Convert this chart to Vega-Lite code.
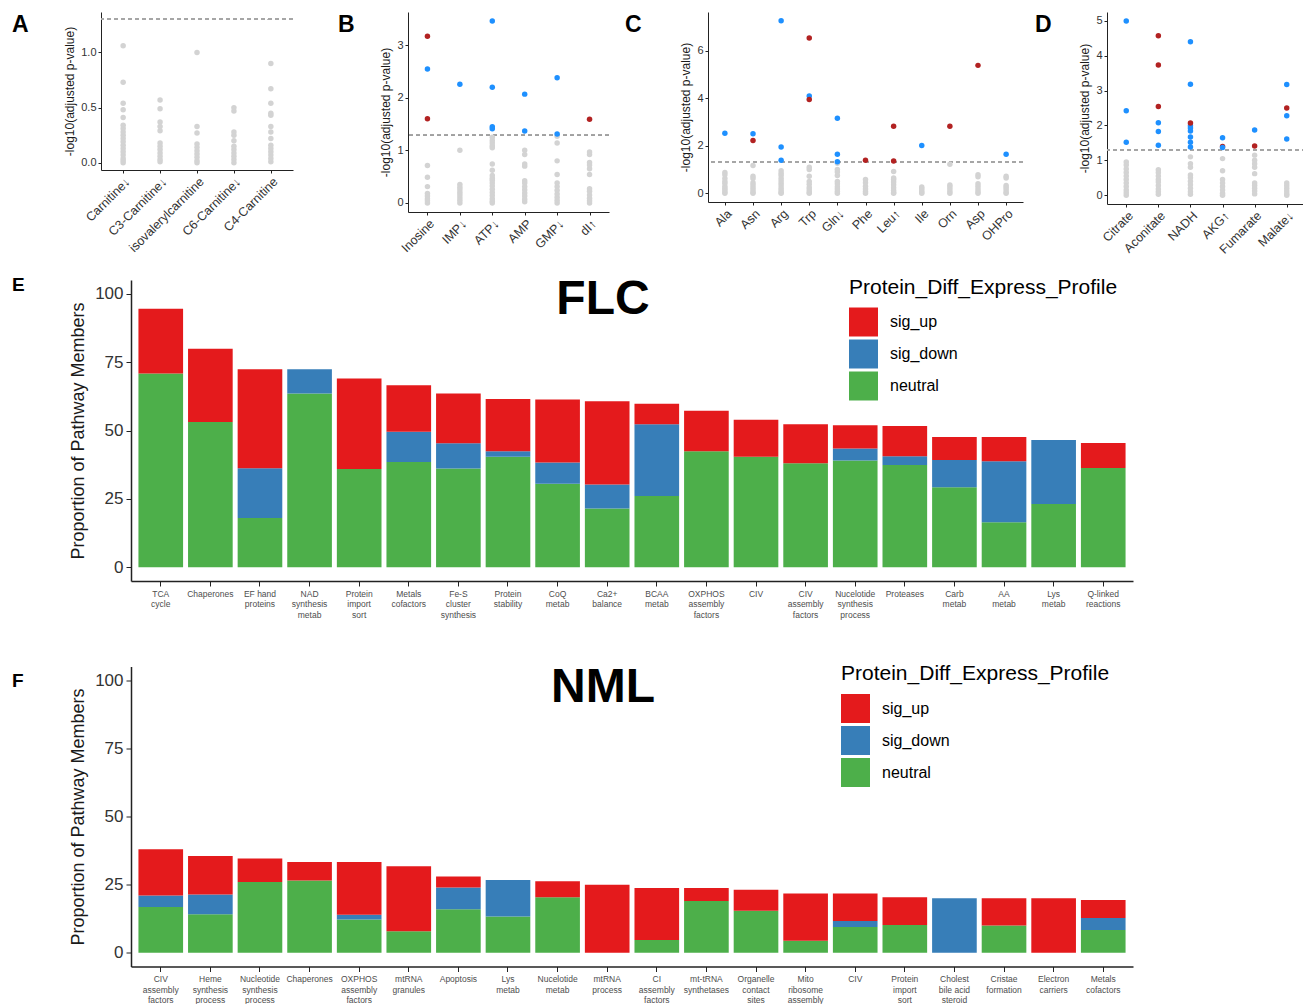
{
  "$schema": "https://vega.github.io/schema/vega-lite/v6.json",
  "padding": {"left": 12, "top": 12, "right": 0, "bottom": 0},
  "config": {
    "font": "Liberation Sans",
    "view": {"stroke": null},
    "axis": {"grid": false, "domainColor": "#222222", "tickColor": "#222222", "labelColor": "#4D4D4D", "titleColor": "#1a1a1a", "titleFontWeight": "normal", "labelOverlap": false},
    "title": {"color": "#000000", "frame": "group"}
  },
  "datasets": {
    "a": [
      {"m":"Carnitine↓","v":0,"s":"ns"},{"m":"Carnitine↓","v":0.02,"s":"ns"},{"m":"Carnitine↓","v":0.04,"s":"ns"},{"m":"Carnitine↓","v":0.07,"s":"ns"},{"m":"Carnitine↓","v":0.1,"s":"ns"},{"m":"Carnitine↓","v":0.13,"s":"ns"},{"m":"Carnitine↓","v":0.16,"s":"ns"},{"m":"Carnitine↓","v":0.19,"s":"ns"},{"m":"Carnitine↓","v":0.22,"s":"ns"},{"m":"Carnitine↓","v":0.25,"s":"ns"},{"m":"Carnitine↓","v":0.28,"s":"ns"},{"m":"Carnitine↓","v":0.31,"s":"ns"},{"m":"Carnitine↓","v":0.34,"s":"ns"},{"m":"Carnitine↓","v":0.41,"s":"ns"},{"m":"Carnitine↓","v":0.48,"s":"ns"},{"m":"Carnitine↓","v":0.54,"s":"ns"},{"m":"Carnitine↓","v":0.73,"s":"ns"},{"m":"Carnitine↓","v":1.06,"s":"ns"},
      {"m":"C3-Carnitine↓","v":0.01,"s":"ns"},{"m":"C3-Carnitine↓","v":0.03,"s":"ns"},{"m":"C3-Carnitine↓","v":0.06,"s":"ns"},{"m":"C3-Carnitine↓","v":0.09,"s":"ns"},{"m":"C3-Carnitine↓","v":0.12,"s":"ns"},{"m":"C3-Carnitine↓","v":0.15,"s":"ns"},{"m":"C3-Carnitine↓","v":0.18,"s":"ns"},{"m":"C3-Carnitine↓","v":0.29,"s":"ns"},{"m":"C3-Carnitine↓","v":0.33,"s":"ns"},{"m":"C3-Carnitine↓","v":0.37,"s":"ns"},{"m":"C3-Carnitine↓","v":0.49,"s":"ns"},{"m":"C3-Carnitine↓","v":0.57,"s":"ns"},
      {"m":"isovalerylcarnitine","v":0,"s":"ns"},{"m":"isovalerylcarnitine","v":0.02,"s":"ns"},{"m":"isovalerylcarnitine","v":0.05,"s":"ns"},{"m":"isovalerylcarnitine","v":0.08,"s":"ns"},{"m":"isovalerylcarnitine","v":0.11,"s":"ns"},{"m":"isovalerylcarnitine","v":0.14,"s":"ns"},{"m":"isovalerylcarnitine","v":0.17,"s":"ns"},{"m":"isovalerylcarnitine","v":0.27,"s":"ns"},{"m":"isovalerylcarnitine","v":0.33,"s":"ns"},{"m":"isovalerylcarnitine","v":1.0,"s":"ns"},
      {"m":"C6-Carnitine↓","v":0,"s":"ns"},{"m":"C6-Carnitine↓","v":0.03,"s":"ns"},{"m":"C6-Carnitine↓","v":0.06,"s":"ns"},{"m":"C6-Carnitine↓","v":0.09,"s":"ns"},{"m":"C6-Carnitine↓","v":0.12,"s":"ns"},{"m":"C6-Carnitine↓","v":0.15,"s":"ns"},{"m":"C6-Carnitine↓","v":0.2,"s":"ns"},{"m":"C6-Carnitine↓","v":0.25,"s":"ns"},{"m":"C6-Carnitine↓","v":0.28,"s":"ns"},{"m":"C6-Carnitine↓","v":0.47,"s":"ns"},{"m":"C6-Carnitine↓","v":0.5,"s":"ns"},
      {"m":"C4-Carnitine","v":0.01,"s":"ns"},{"m":"C4-Carnitine","v":0.04,"s":"ns"},{"m":"C4-Carnitine","v":0.07,"s":"ns"},{"m":"C4-Carnitine","v":0.1,"s":"ns"},{"m":"C4-Carnitine","v":0.13,"s":"ns"},{"m":"C4-Carnitine","v":0.16,"s":"ns"},{"m":"C4-Carnitine","v":0.22,"s":"ns"},{"m":"C4-Carnitine","v":0.28,"s":"ns"},{"m":"C4-Carnitine","v":0.33,"s":"ns"},{"m":"C4-Carnitine","v":0.43,"s":"ns"},{"m":"C4-Carnitine","v":0.45,"s":"ns"},{"m":"C4-Carnitine","v":0.54,"s":"ns"},{"m":"C4-Carnitine","v":0.67,"s":"ns"},{"m":"C4-Carnitine","v":0.9,"s":"ns"}
    ],
    "b": [
      {"m":"Inosine","v":0,"s":"ns"},{"m":"Inosine","v":0.04,"s":"ns"},{"m":"Inosine","v":0.08,"s":"ns"},{"m":"Inosine","v":0.13,"s":"ns"},{"m":"Inosine","v":0.18,"s":"ns"},{"m":"Inosine","v":0.31,"s":"ns"},{"m":"Inosine","v":0.49,"s":"ns"},{"m":"Inosine","v":0.71,"s":"ns"},{"m":"Inosine","v":2.55,"s":"down"},{"m":"Inosine","v":3.17,"s":"up"},{"m":"Inosine","v":1.6,"s":"up"},
      {"m":"IMP↓","v":0,"s":"ns"},{"m":"IMP↓","v":0.05,"s":"ns"},{"m":"IMP↓","v":0.1,"s":"ns"},{"m":"IMP↓","v":0.15,"s":"ns"},{"m":"IMP↓","v":0.2,"s":"ns"},{"m":"IMP↓","v":0.25,"s":"ns"},{"m":"IMP↓","v":0.3,"s":"ns"},{"m":"IMP↓","v":0.35,"s":"ns"},{"m":"IMP↓","v":1.0,"s":"ns"},{"m":"IMP↓","v":2.26,"s":"down"},
      {"m":"ATP↓","v":0,"s":"ns"},{"m":"ATP↓","v":0.03,"s":"ns"},{"m":"ATP↓","v":0.08,"s":"ns"},{"m":"ATP↓","v":0.14,"s":"ns"},{"m":"ATP↓","v":0.2,"s":"ns"},{"m":"ATP↓","v":0.26,"s":"ns"},{"m":"ATP↓","v":0.32,"s":"ns"},{"m":"ATP↓","v":0.38,"s":"ns"},{"m":"ATP↓","v":0.43,"s":"ns"},{"m":"ATP↓","v":0.47,"s":"ns"},{"m":"ATP↓","v":0.52,"s":"ns"},{"m":"ATP↓","v":0.62,"s":"ns"},{"m":"ATP↓","v":0.74,"s":"ns"},{"m":"ATP↓","v":1.05,"s":"ns"},{"m":"ATP↓","v":1.09,"s":"ns"},{"m":"ATP↓","v":1.14,"s":"ns"},{"m":"ATP↓","v":1.19,"s":"ns"},{"m":"ATP↓","v":1.25,"s":"ns"},{"m":"ATP↓","v":3.46,"s":"down"},{"m":"ATP↓","v":2.2,"s":"down"},{"m":"ATP↓","v":1.45,"s":"down"},{"m":"ATP↓","v":1.41,"s":"down"},
      {"m":"AMP","v":0.02,"s":"ns"},{"m":"AMP","v":0.07,"s":"ns"},{"m":"AMP","v":0.13,"s":"ns"},{"m":"AMP","v":0.19,"s":"ns"},{"m":"AMP","v":0.25,"s":"ns"},{"m":"AMP","v":0.31,"s":"ns"},{"m":"AMP","v":0.38,"s":"ns"},{"m":"AMP","v":0.42,"s":"ns"},{"m":"AMP","v":0.7,"s":"ns"},{"m":"AMP","v":0.74,"s":"ns"},{"m":"AMP","v":0.92,"s":"ns"},{"m":"AMP","v":1.0,"s":"ns"},{"m":"AMP","v":2.07,"s":"down"},{"m":"AMP","v":1.37,"s":"down"},
      {"m":"GMP↓","v":0,"s":"ns"},{"m":"GMP↓","v":0.05,"s":"ns"},{"m":"GMP↓","v":0.11,"s":"ns"},{"m":"GMP↓","v":0.17,"s":"ns"},{"m":"GMP↓","v":0.24,"s":"ns"},{"m":"GMP↓","v":0.31,"s":"ns"},{"m":"GMP↓","v":0.38,"s":"ns"},{"m":"GMP↓","v":0.54,"s":"ns"},{"m":"GMP↓","v":0.8,"s":"ns"},{"m":"GMP↓","v":1.14,"s":"ns"},{"m":"GMP↓","v":1.27,"s":"ns"},{"m":"GMP↓","v":2.38,"s":"down"},{"m":"GMP↓","v":1.31,"s":"down"},
      {"m":"dI↑","v":0,"s":"ns"},{"m":"dI↑","v":0.04,"s":"ns"},{"m":"dI↑","v":0.09,"s":"ns"},{"m":"dI↑","v":0.15,"s":"ns"},{"m":"dI↑","v":0.22,"s":"ns"},{"m":"dI↑","v":0.27,"s":"ns"},{"m":"dI↑","v":0.54,"s":"ns"},{"m":"dI↑","v":0.65,"s":"ns"},{"m":"dI↑","v":0.72,"s":"ns"},{"m":"dI↑","v":0.77,"s":"ns"},{"m":"dI↑","v":0.92,"s":"ns"},{"m":"dI↑","v":0.97,"s":"ns"},{"m":"dI↑","v":1.59,"s":"up"}
    ],
    "c": [
      {"m":"Ala","v":0,"s":"ns"},{"m":"Ala","v":0.06,"s":"ns"},{"m":"Ala","v":0.14,"s":"ns"},{"m":"Ala","v":0.22,"s":"ns"},{"m":"Ala","v":0.3,"s":"ns"},{"m":"Ala","v":0.42,"s":"ns"},{"m":"Ala","v":0.5,"s":"ns"},{"m":"Ala","v":0.62,"s":"ns"},{"m":"Ala","v":0.78,"s":"ns"},{"m":"Ala","v":0.88,"s":"ns"},{"m":"Ala","v":2.53,"s":"down"},
      {"m":"Asn","v":0,"s":"ns"},{"m":"Asn","v":0.06,"s":"ns"},{"m":"Asn","v":0.15,"s":"ns"},{"m":"Asn","v":0.25,"s":"ns"},{"m":"Asn","v":0.35,"s":"ns"},{"m":"Asn","v":0.45,"s":"ns"},{"m":"Asn","v":0.62,"s":"ns"},{"m":"Asn","v":0.72,"s":"ns"},{"m":"Asn","v":1.17,"s":"ns"},{"m":"Asn","v":2.51,"s":"down"},{"m":"Asn","v":2.22,"s":"up"},
      {"m":"Arg","v":0,"s":"ns"},{"m":"Arg","v":0.04,"s":"ns"},{"m":"Arg","v":0.12,"s":"ns"},{"m":"Arg","v":0.22,"s":"ns"},{"m":"Arg","v":0.32,"s":"ns"},{"m":"Arg","v":0.42,"s":"ns"},{"m":"Arg","v":0.52,"s":"ns"},{"m":"Arg","v":0.62,"s":"ns"},{"m":"Arg","v":0.75,"s":"ns"},{"m":"Arg","v":0.85,"s":"ns"},{"m":"Arg","v":0.95,"s":"ns"},{"m":"Arg","v":7.26,"s":"down"},{"m":"Arg","v":1.95,"s":"down"},{"m":"Arg","v":1.39,"s":"down"},
      {"m":"Trp","v":0,"s":"ns"},{"m":"Trp","v":0.06,"s":"ns"},{"m":"Trp","v":0.15,"s":"ns"},{"m":"Trp","v":0.25,"s":"ns"},{"m":"Trp","v":0.38,"s":"ns"},{"m":"Trp","v":0.5,"s":"ns"},{"m":"Trp","v":0.72,"s":"ns"},{"m":"Trp","v":1.0,"s":"ns"},{"m":"Trp","v":1.1,"s":"ns"},{"m":"Trp","v":4.09,"s":"down"},{"m":"Trp","v":6.53,"s":"up"},{"m":"Trp","v":3.95,"s":"up"},
      {"m":"Gln↓","v":0,"s":"ns"},{"m":"Gln↓","v":0.08,"s":"ns"},{"m":"Gln↓","v":0.18,"s":"ns"},{"m":"Gln↓","v":0.28,"s":"ns"},{"m":"Gln↓","v":0.4,"s":"ns"},{"m":"Gln↓","v":0.5,"s":"ns"},{"m":"Gln↓","v":0.75,"s":"ns"},{"m":"Gln↓","v":0.9,"s":"ns"},{"m":"Gln↓","v":1.0,"s":"ns"},{"m":"Gln↓","v":1.27,"s":"ns"},{"m":"Gln↓","v":3.16,"s":"down"},{"m":"Gln↓","v":1.64,"s":"down"},{"m":"Gln↓","v":1.33,"s":"down"},
      {"m":"Phe","v":0,"s":"ns"},{"m":"Phe","v":0.08,"s":"ns"},{"m":"Phe","v":0.18,"s":"ns"},{"m":"Phe","v":0.3,"s":"ns"},{"m":"Phe","v":0.45,"s":"ns"},{"m":"Phe","v":0.58,"s":"ns"},{"m":"Phe","v":1.39,"s":"up"},
      {"m":"Leu↑","v":0,"s":"ns"},{"m":"Leu↑","v":0.04,"s":"ns"},{"m":"Leu↑","v":0.12,"s":"ns"},{"m":"Leu↑","v":0.24,"s":"ns"},{"m":"Leu↑","v":0.36,"s":"ns"},{"m":"Leu↑","v":0.48,"s":"ns"},{"m":"Leu↑","v":0.58,"s":"ns"},{"m":"Leu↑","v":0.65,"s":"ns"},{"m":"Leu↑","v":0.92,"s":"ns"},{"m":"Leu↑","v":2.82,"s":"up"},{"m":"Leu↑","v":1.36,"s":"up"},
      {"m":"Ile","v":0,"s":"ns"},{"m":"Ile","v":0.05,"s":"ns"},{"m":"Ile","v":0.12,"s":"ns"},{"m":"Ile","v":0.2,"s":"ns"},{"m":"Ile","v":0.27,"s":"ns"},{"m":"Ile","v":2.01,"s":"down"},
      {"m":"Orn","v":0,"s":"ns"},{"m":"Orn","v":0.08,"s":"ns"},{"m":"Orn","v":0.18,"s":"ns"},{"m":"Orn","v":0.28,"s":"ns"},{"m":"Orn","v":0.35,"s":"ns"},{"m":"Orn","v":1.22,"s":"ns"},{"m":"Orn","v":2.82,"s":"up"},
      {"m":"Asp","v":0,"s":"ns"},{"m":"Asp","v":0.08,"s":"ns"},{"m":"Asp","v":0.18,"s":"ns"},{"m":"Asp","v":0.3,"s":"ns"},{"m":"Asp","v":0.4,"s":"ns"},{"m":"Asp","v":0.7,"s":"ns"},{"m":"Asp","v":0.78,"s":"ns"},{"m":"Asp","v":5.38,"s":"up"},
      {"m":"OHPro","v":0,"s":"ns"},{"m":"OHPro","v":0.06,"s":"ns"},{"m":"OHPro","v":0.16,"s":"ns"},{"m":"OHPro","v":0.26,"s":"ns"},{"m":"OHPro","v":0.33,"s":"ns"},{"m":"OHPro","v":0.65,"s":"ns"},{"m":"OHPro","v":0.72,"s":"ns"},{"m":"OHPro","v":1.64,"s":"down"}
    ],
    "d": [
      {"m":"Citrate","v":0,"s":"ns"},{"m":"Citrate","v":0.07,"s":"ns"},{"m":"Citrate","v":0.15,"s":"ns"},{"m":"Citrate","v":0.25,"s":"ns"},{"m":"Citrate","v":0.35,"s":"ns"},{"m":"Citrate","v":0.45,"s":"ns"},{"m":"Citrate","v":0.55,"s":"ns"},{"m":"Citrate","v":0.65,"s":"ns"},{"m":"Citrate","v":0.75,"s":"ns"},{"m":"Citrate","v":0.87,"s":"ns"},{"m":"Citrate","v":0.95,"s":"ns"},{"m":"Citrate","v":4.99,"s":"down"},{"m":"Citrate","v":2.42,"s":"down"},{"m":"Citrate","v":1.52,"s":"down"},
      {"m":"Aconitate","v":0.03,"s":"ns"},{"m":"Aconitate","v":0.1,"s":"ns"},{"m":"Aconitate","v":0.18,"s":"ns"},{"m":"Aconitate","v":0.28,"s":"ns"},{"m":"Aconitate","v":0.38,"s":"ns"},{"m":"Aconitate","v":0.45,"s":"ns"},{"m":"Aconitate","v":0.55,"s":"ns"},{"m":"Aconitate","v":0.65,"s":"ns"},{"m":"Aconitate","v":0.73,"s":"ns"},{"m":"Aconitate","v":2.08,"s":"down"},{"m":"Aconitate","v":1.83,"s":"down"},{"m":"Aconitate","v":1.43,"s":"down"},{"m":"Aconitate","v":4.57,"s":"up"},{"m":"Aconitate","v":3.73,"s":"up"},{"m":"Aconitate","v":2.54,"s":"up"},
      {"m":"NADH","v":0.03,"s":"ns"},{"m":"NADH","v":0.1,"s":"ns"},{"m":"NADH","v":0.2,"s":"ns"},{"m":"NADH","v":0.3,"s":"ns"},{"m":"NADH","v":0.4,"s":"ns"},{"m":"NADH","v":0.5,"s":"ns"},{"m":"NADH","v":0.58,"s":"ns"},{"m":"NADH","v":0.8,"s":"ns"},{"m":"NADH","v":0.9,"s":"ns"},{"m":"NADH","v":1.1,"s":"ns"},{"m":"NADH","v":4.4,"s":"down"},{"m":"NADH","v":3.18,"s":"down"},{"m":"NADH","v":1.99,"s":"down"},{"m":"NADH","v":1.93,"s":"down"},{"m":"NADH","v":1.84,"s":"down"},{"m":"NADH","v":1.67,"s":"down"},{"m":"NADH","v":1.52,"s":"down"},{"m":"NADH","v":1.38,"s":"down"},{"m":"NADH","v":2.07,"s":"up"},
      {"m":"AKG↑","v":0,"s":"ns"},{"m":"AKG↑","v":0.06,"s":"ns"},{"m":"AKG↑","v":0.15,"s":"ns"},{"m":"AKG↑","v":0.25,"s":"ns"},{"m":"AKG↑","v":0.35,"s":"ns"},{"m":"AKG↑","v":0.45,"s":"ns"},{"m":"AKG↑","v":0.7,"s":"ns"},{"m":"AKG↑","v":1.05,"s":"ns"},{"m":"AKG↑","v":1.4,"s":"up"},{"m":"AKG↑","v":1.65,"s":"down"},{"m":"AKG↑","v":1.37,"s":"down"},
      {"m":"Fumarate","v":0.04,"s":"ns"},{"m":"Fumarate","v":0.12,"s":"ns"},{"m":"Fumarate","v":0.2,"s":"ns"},{"m":"Fumarate","v":0.28,"s":"ns"},{"m":"Fumarate","v":0.35,"s":"ns"},{"m":"Fumarate","v":0.62,"s":"ns"},{"m":"Fumarate","v":0.8,"s":"ns"},{"m":"Fumarate","v":0.9,"s":"ns"},{"m":"Fumarate","v":1.0,"s":"ns"},{"m":"Fumarate","v":1.15,"s":"ns"},{"m":"Fumarate","v":1.87,"s":"down"},{"m":"Fumarate","v":1.41,"s":"up"},
      {"m":"Malate↓","v":0,"s":"ns"},{"m":"Malate↓","v":0.05,"s":"ns"},{"m":"Malate↓","v":0.12,"s":"ns"},{"m":"Malate↓","v":0.2,"s":"ns"},{"m":"Malate↓","v":0.28,"s":"ns"},{"m":"Malate↓","v":0.35,"s":"ns"},{"m":"Malate↓","v":3.17,"s":"down"},{"m":"Malate↓","v":2.28,"s":"down"},{"m":"Malate↓","v":1.61,"s":"down"},{"m":"Malate↓","v":2.5,"s":"up"}
    ],
    "e": [
      {"p":"TCA\ncycle","pct":70.8,"profile":"neutral"},{"p":"TCA\ncycle","pct":23.7,"profile":"sig_up"},
      {"p":"Chaperones","pct":53.1,"profile":"neutral"},{"p":"Chaperones","pct":26.8,"profile":"sig_up"},
      {"p":"EF hand\nproteins","pct":18.0,"profile":"neutral"},{"p":"EF hand\nproteins","pct":18.2,"profile":"sig_down"},{"p":"EF hand\nproteins","pct":36.2,"profile":"sig_up"},
      {"p":"NAD\nsynthesis\nmetab","pct":63.5,"profile":"neutral"},{"p":"NAD\nsynthesis\nmetab","pct":8.9,"profile":"sig_down"},
      {"p":"Protein\nimport\nsort","pct":35.9,"profile":"neutral"},{"p":"Protein\nimport\nsort","pct":33.1,"profile":"sig_up"},
      {"p":"Metals\ncofactors","pct":38.5,"profile":"neutral"},{"p":"Metals\ncofactors","pct":11.0,"profile":"sig_down"},{"p":"Metals\ncofactors","pct":17.0,"profile":"sig_up"},
      {"p":"Fe-S\ncluster\nsynthesis","pct":36.1,"profile":"neutral"},{"p":"Fe-S\ncluster\nsynthesis","pct":9.2,"profile":"sig_down"},{"p":"Fe-S\ncluster\nsynthesis","pct":18.2,"profile":"sig_up"},
      {"p":"Protein\nstability","pct":40.4,"profile":"neutral"},{"p":"Protein\nstability","pct":2.0,"profile":"sig_down"},{"p":"Protein\nstability","pct":19.1,"profile":"sig_up"},
      {"p":"CoQ\nmetab","pct":30.5,"profile":"neutral"},{"p":"CoQ\nmetab","pct":7.8,"profile":"sig_down"},{"p":"CoQ\nmetab","pct":23.0,"profile":"sig_up"},
      {"p":"Ca2+\nbalance","pct":21.5,"profile":"neutral"},{"p":"Ca2+\nbalance","pct":8.8,"profile":"sig_down"},{"p":"Ca2+\nbalance","pct":30.4,"profile":"sig_up"},
      {"p":"BCAA\nmetab","pct":26.1,"profile":"neutral"},{"p":"BCAA\nmetab","pct":26.2,"profile":"sig_down"},{"p":"BCAA\nmetab","pct":7.5,"profile":"sig_up"},
      {"p":"OXPHOS\nassembly\nfactors","pct":42.4,"profile":"neutral"},{"p":"OXPHOS\nassembly\nfactors","pct":14.8,"profile":"sig_up"},
      {"p":"CIV","pct":40.4,"profile":"neutral"},{"p":"CIV","pct":13.5,"profile":"sig_up"},
      {"p":"CIV\nassembly\nfactors","pct":38.0,"profile":"neutral"},{"p":"CIV\nassembly\nfactors","pct":14.3,"profile":"sig_up"},
      {"p":"Nucelotide\nsynthesis\nprocess","pct":39.0,"profile":"neutral"},{"p":"Nucelotide\nsynthesis\nprocess","pct":4.4,"profile":"sig_down"},{"p":"Nucelotide\nsynthesis\nprocess","pct":8.5,"profile":"sig_up"},
      {"p":"Proteases","pct":37.4,"profile":"neutral"},{"p":"Proteases","pct":3.2,"profile":"sig_down"},{"p":"Proteases","pct":11.0,"profile":"sig_up"},
      {"p":"Carb\nmetab","pct":29.3,"profile":"neutral"},{"p":"Carb\nmetab","pct":9.9,"profile":"sig_down"},{"p":"Carb\nmetab","pct":8.4,"profile":"sig_up"},
      {"p":"AA\nmetab","pct":16.5,"profile":"neutral"},{"p":"AA\nmetab","pct":22.3,"profile":"sig_down"},{"p":"AA\nmetab","pct":8.8,"profile":"sig_up"},
      {"p":"Lys\nmetab","pct":23.1,"profile":"neutral"},{"p":"Lys\nmetab","pct":23.4,"profile":"sig_down"},
      {"p":"Q-linked\nreactions","pct":36.3,"profile":"neutral"},{"p":"Q-linked\nreactions","pct":9.1,"profile":"sig_up"}
    ],
    "f": [
      {"p":"CIV\nassembly\nfactors","pct":16.8,"profile":"neutral"},{"p":"CIV\nassembly\nfactors","pct":4.2,"profile":"sig_down"},{"p":"CIV\nassembly\nfactors","pct":17.0,"profile":"sig_up"},
      {"p":"Heme\nsynthesis\nprocess","pct":14.2,"profile":"neutral"},{"p":"Heme\nsynthesis\nprocess","pct":7.2,"profile":"sig_down"},{"p":"Heme\nsynthesis\nprocess","pct":14.1,"profile":"sig_up"},
      {"p":"Nucleotide\nsynthesis\nprocess","pct":26.0,"profile":"neutral"},{"p":"Nucleotide\nsynthesis\nprocess","pct":8.6,"profile":"sig_up"},
      {"p":"Chaperones","pct":26.5,"profile":"neutral"},{"p":"Chaperones","pct":6.8,"profile":"sig_up"},
      {"p":"OXPHOS\nassembly\nfactors","pct":12.2,"profile":"neutral"},{"p":"OXPHOS\nassembly\nfactors","pct":1.8,"profile":"sig_down"},{"p":"OXPHOS\nassembly\nfactors","pct":19.3,"profile":"sig_up"},
      {"p":"mtRNA\ngranules","pct":7.9,"profile":"neutral"},{"p":"mtRNA\ngranules","pct":23.9,"profile":"sig_up"},
      {"p":"Apoptosis","pct":16.0,"profile":"neutral"},{"p":"Apoptosis","pct":8.0,"profile":"sig_down"},{"p":"Apoptosis","pct":4.0,"profile":"sig_up"},
      {"p":"Lys\nmetab","pct":13.3,"profile":"neutral"},{"p":"Lys\nmetab","pct":13.4,"profile":"sig_down"},
      {"p":"Nucelotide\nmetab","pct":20.4,"profile":"neutral"},{"p":"Nucelotide\nmetab","pct":5.9,"profile":"sig_up"},
      {"p":"mtRNA\nprocess","pct":25.0,"profile":"sig_up"},
      {"p":"CI\nassembly\nfactors","pct":4.7,"profile":"neutral"},{"p":"CI\nassembly\nfactors","pct":19.1,"profile":"sig_up"},
      {"p":"mt-tRNA\nsynthetases","pct":19.0,"profile":"neutral"},{"p":"mt-tRNA\nsynthetases","pct":4.8,"profile":"sig_up"},
      {"p":"Organelle\ncontact\nsites","pct":15.4,"profile":"neutral"},{"p":"Organelle\ncontact\nsites","pct":7.7,"profile":"sig_up"},
      {"p":"Mito\nribosome\nassembly","pct":4.4,"profile":"neutral"},{"p":"Mito\nribosome\nassembly","pct":17.4,"profile":"sig_up"},
      {"p":"CIV","pct":9.5,"profile":"neutral"},{"p":"CIV","pct":2.2,"profile":"sig_down"},{"p":"CIV","pct":10.1,"profile":"sig_up"},
      {"p":"Protein\nimport\nsort","pct":10.2,"profile":"neutral"},{"p":"Protein\nimport\nsort","pct":10.2,"profile":"sig_up"},
      {"p":"Cholest\nbile acid\nsteroid","pct":20.0,"profile":"sig_down"},
      {"p":"Cristae\nformation","pct":10.0,"profile":"neutral"},{"p":"Cristae\nformation","pct":10.0,"profile":"sig_up"},
      {"p":"Electron\ncarriers","pct":20.0,"profile":"sig_up"},
      {"p":"Metals\ncofactors","pct":8.4,"profile":"neutral"},{"p":"Metals\ncofactors","pct":4.4,"profile":"sig_down"},{"p":"Metals\ncofactors","pct":6.6,"profile":"sig_up"}
    ]
  },
  "spacing": 43.5,
  "resolve": {"scale": {"color": "independent"}, "legend": {"color": "independent"}},
  "vconcat": [
    {
      "spacing": 20,
      "resolve": {"scale": {"color": "independent"}, "legend": {"color": "independent"}},
      "vconcat": [
        {
          "spacing": 44,
          "hconcat": [
            {
              "width": 192, "height": 158,
              "title": {"text": "A", "anchor": "start", "fontSize": 23, "fontWeight": "bold", "dx": -89, "baseline": "alphabetic", "offset": -43},
              "data": {"name": "a"},
              "layer": [
                {"mark": {"type": "rule", "strokeDash": [4, 3], "color": "#A6A6A6", "strokeWidth": 1}, "encoding": {"y": {"datum": 1.301}}},
                {"mark": {"type": "circle", "size": 30, "opacity": 1},
                 "encoding": {
                   "x": {"field": "m", "type": "nominal", "sort": null, "scale": {"type": "point", "padding": 0.6}, "axis": {"title": null, "labelAngle": -45, "labelAlign": "right", "labelBaseline": "top", "labelFontSize": 12.5, "tickSize": 3, "labelPadding": 2, "labelColor": "#333333"}},
                   "y": {"field": "v", "type": "quantitative", "scale": {"domain": [-0.065, 1.366], "nice": false, "zero": false}, "axis": {"title": "-log10(adjusted p-value)", "values": [0, 0.5, 1], "format": ".1f", "labelFontSize": 11, "titleFontSize": 12, "tickSize": 3, "titlePadding": 4, "labelColor": "#333333", "labelOverlap": false}},
                   "color": {"field": "s", "type": "nominal", "scale": {"domain": ["ns", "down", "up"], "range": ["#D3D3D3", "#1E90FF", "#B22222"]}, "legend": null}
                 }}
              ]
            },
            {
              "spacing": 15,
              "hconcat": [
                {
                  "width": 201, "height": 200,
                  "title": {"text": "B", "anchor": "start", "fontSize": 23, "fontWeight": "bold", "dx": -70, "baseline": "alphabetic", "offset": -43},
                  "data": {"name": "b"},
                  "layer": [
                    {"mark": {"type": "rule", "strokeDash": [4, 3], "color": "#A6A6A6", "strokeWidth": 1}, "encoding": {"y": {"datum": 1.301}}},
                    {"mark": {"type": "circle", "size": 30, "opacity": 1},
                     "encoding": {
                       "x": {"field": "m", "type": "nominal", "sort": null, "scale": {"type": "point", "padding": 0.6}, "axis": {"title": null, "labelAngle": -45, "labelAlign": "right", "labelBaseline": "top", "labelFontSize": 12.5, "tickSize": 3, "labelPadding": 2, "labelColor": "#333333"}},
                       "y": {"field": "v", "type": "quantitative", "scale": {"domain": [-0.173, 3.633], "nice": false, "zero": false}, "axis": {"title": "-log10(adjusted p-value)", "values": [0, 1, 2, 3], "labelFontSize": 11, "titleFontSize": 12, "tickSize": 3, "titlePadding": 4, "labelColor": "#333333", "labelOverlap": false}},
                       "color": {"field": "s", "type": "nominal", "scale": {"domain": ["ns", "down", "up"], "range": ["#D3D3D3", "#1E90FF", "#B22222"]}, "legend": null}
                     }}
                  ]
                },
                {
                  "spacing": 11,
                  "hconcat": [
                    {
                      "width": 315, "height": 190,
                      "title": {"text": "C", "anchor": "start", "fontSize": 23, "fontWeight": "bold", "dx": -83, "baseline": "alphabetic", "offset": -43},
                      "data": {"name": "c"},
                      "layer": [
                        {"mark": {"type": "rule", "strokeDash": [4, 3], "color": "#A6A6A6", "strokeWidth": 1}, "encoding": {"y": {"datum": 1.301}}},
                        {"mark": {"type": "circle", "size": 30, "opacity": 1},
                         "encoding": {
                           "x": {"field": "m", "type": "nominal", "sort": null, "scale": {"type": "point", "padding": 0.6}, "axis": {"title": null, "labelAngle": -45, "labelAlign": "right", "labelBaseline": "top", "labelFontSize": 12.5, "tickSize": 3, "labelPadding": 2, "labelColor": "#333333"}},
                           "y": {"field": "v", "type": "quantitative", "scale": {"domain": [-0.363, 7.623], "nice": false, "zero": false}, "axis": {"title": "-log10(adjusted p-value)", "values": [0, 2, 4, 6], "labelFontSize": 11, "titleFontSize": 12, "tickSize": 3, "titlePadding": 4, "labelColor": "#333333", "labelOverlap": false}},
                           "color": {"field": "s", "type": "nominal", "scale": {"domain": ["ns", "down", "up"], "range": ["#D3D3D3", "#1E90FF", "#B22222"]}, "legend": null}
                         }}
                      ]
                    },
                    {
                      "width": 199, "height": 192,
                      "title": {"text": "D", "anchor": "start", "fontSize": 23, "fontWeight": "bold", "dx": -72, "baseline": "alphabetic", "offset": -43},
                      "data": {"name": "d"},
                      "layer": [
                        {"mark": {"type": "rule", "strokeDash": [4, 3], "color": "#A6A6A6", "strokeWidth": 1}, "encoding": {"y": {"datum": 1.301}}},
                        {"mark": {"type": "circle", "size": 30, "opacity": 1},
                         "encoding": {
                           "x": {"field": "m", "type": "nominal", "sort": null, "scale": {"type": "point", "padding": 0.6}, "axis": {"title": null, "labelAngle": -45, "labelAlign": "right", "labelBaseline": "top", "labelFontSize": 12.5, "tickSize": 3, "labelPadding": 2, "labelColor": "#333333"}},
                           "y": {"field": "v", "type": "quantitative", "scale": {"domain": [-0.25, 5.25], "nice": false, "zero": false}, "axis": {"title": "-log10(adjusted p-value)", "tickCount": 6, "labelFontSize": 11, "titleFontSize": 12, "tickSize": 3, "titlePadding": 4, "labelColor": "#333333", "labelOverlap": false, "labelSeparation": 0, "labelBound": false}},
                           "color": {"field": "s", "type": "nominal", "scale": {"domain": ["ns", "down", "up"], "range": ["#D3D3D3", "#1E90FF", "#B22222"]}, "legend": null}
                         }}
                      ]
                    }
                  ]
                }
              ]
            }
          ]
        },
        {
          "spacing": -33,
          "hconcat": [
            {
              "width": 1, "height": 1,
              "title": {"text": "E", "anchor": "start", "fontSize": 19, "fontWeight": "bold", "dx": -89, "baseline": "alphabetic", "offset": -30},
              "data": {"values": []},
              "mark": "point"
            },
            {
              "width": 1002, "height": 301,
              "title": {"text": "FLC", "anchor": "middle", "fontSize": 48, "fontWeight": "bold", "dx": -29, "baseline": "alphabetic", "offset": -82},
              "data": {"name": "e"},
              "mark": {"type": "bar"},
              "encoding": {
                "x": {"field": "p", "type": "nominal", "sort": null, "scale": {"paddingInner": 0.1, "paddingOuter": 0.15}, "axis": {"title": null, "labelAngle": 0, "labelFontSize": 8.5, "labelLineHeight": 10.5, "labelColor": "#4D4D4D", "labelExpr": "split(datum.label, '\\n')", "tickSize": 5, "labelPadding": 3, "domainWidth": 1.5, "labelBaseline": "top", "labelLimit": 0}},
                "y": {"field": "pct", "type": "quantitative", "stack": "zero", "scale": {"domain": [-5, 105], "nice": false, "zero": false}, "axis": {"title": "Proportion of Pathway Members", "values": [0, 25, 50, 75, 100], "labelFontSize": 17, "titleFontSize": 18, "tickSize": 5, "labelPadding": 3, "titlePadding": 7, "domainWidth": 1.5, "labelColor": "#333333"}},
                "color": {"field": "profile", "type": "nominal", "scale": {"domain": ["sig_up", "sig_down", "neutral"], "range": ["#E41A1C", "#377EB8", "#4DAF4A"]},
                  "legend": {"orient": "none", "legendX": 748, "legendY": -3.5, "title": "Protein_Diff_Express_Profile", "titleFontSize": 21, "titleFontWeight": "normal", "titleColor": "#000000", "titlePadding": 10, "titleLimit": 500, "labelFontSize": 16, "labelColor": "#000000", "symbolType": "square", "symbolSize": 841, "symbolStrokeWidth": 0, "symbolOpacity": 1, "rowPadding": 3, "labelOffset": 12, "padding": 0}},
                "order": {"field": "profile", "sort": "ascending"}
              }
            }
          ]
        }
      ]
    },
    {
      "spacing": -33,
      "hconcat": [
        {
          "width": 1, "height": 1,
          "title": {"text": "F", "anchor": "start", "fontSize": 19, "fontWeight": "bold", "dx": -89, "baseline": "alphabetic", "offset": -39},
          "data": {"values": []},
          "mark": "point"
        },
        {
          "width": 1002, "height": 300,
          "title": {"text": "NML", "anchor": "middle", "fontSize": 48, "fontWeight": "bold", "dx": -29, "baseline": "alphabetic", "offset": -83},
          "data": {"name": "f"},
          "mark": {"type": "bar"},
          "encoding": {
            "x": {"field": "p", "type": "nominal", "sort": null, "scale": {"paddingInner": 0.1, "paddingOuter": 0.15}, "axis": {"title": null, "labelAngle": 0, "labelFontSize": 8.5, "labelLineHeight": 10.5, "labelColor": "#4D4D4D", "labelExpr": "split(datum.label, '\\n')", "tickSize": 5, "labelPadding": 3, "domainWidth": 1.5, "labelBaseline": "top", "labelLimit": 0}},
            "y": {"field": "pct", "type": "quantitative", "stack": "zero", "scale": {"domain": [-5, 105], "nice": false, "zero": false}, "axis": {"title": "Proportion of Pathway Members", "values": [0, 25, 50, 75, 100], "labelFontSize": 17, "titleFontSize": 18, "tickSize": 5, "labelPadding": 3, "titlePadding": 7, "domainWidth": 1.5, "labelColor": "#333333"}},
            "color": {"field": "profile", "type": "nominal", "scale": {"domain": ["sig_up", "sig_down", "neutral"], "range": ["#E41A1C", "#377EB8", "#4DAF4A"]},
              "legend": {"orient": "none", "legendX": 740, "legendY": -3.5, "title": "Protein_Diff_Express_Profile", "titleFontSize": 21, "titleFontWeight": "normal", "titleColor": "#000000", "titlePadding": 10, "titleLimit": 500, "labelFontSize": 16, "labelColor": "#000000", "symbolType": "square", "symbolSize": 841, "symbolStrokeWidth": 0, "symbolOpacity": 1, "rowPadding": 3, "labelOffset": 12, "padding": 0}},
            "order": {"field": "profile", "sort": "ascending"}
          }
        }
      ]
    }
  ]
}
